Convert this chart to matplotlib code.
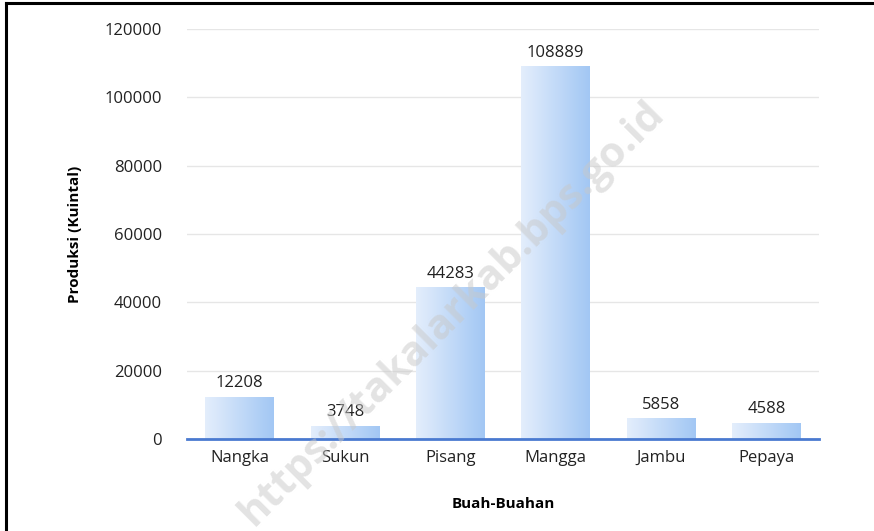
import numpy as np
import matplotlib
matplotlib.use("Agg")
import matplotlib.pyplot as plt
from matplotlib.colors import LinearSegmentedColormap
from matplotlib.lines import Line2D

# data
buah = ['Nangka', 'Sukun', 'Pisang', 'Mangga', 'Jambu', 'Pepaya']
produksi = [12208, 3748, 44283, 108889, 5858, 4588]
y_ticks = [0, 20000, 40000, 60000, 80000, 100000, 120000]

plt.rcParams['font.family'] = ['Open Sans', 'DejaVu Sans']

fig = plt.figure(figsize=(8.74, 5.31), dpi=100)
ax = fig.add_axes([187 / 874, 1 - 439 / 531, (819 - 187) / 874, (439 - 29) / 531])

bar_w = 0.655
grad = LinearSegmentedColormap.from_list('grad', ['#e4eefc', '#a2c7f4'])
strip = np.linspace(0, 1, 256).reshape(1, -1)

x = np.arange(len(buah))
bars = ax.bar(x, produksi, width=bar_w, color='none', zorder=2)
for b, v in zip(bars, produksi):
    x0 = b.get_x()
    ax.imshow(strip, cmap=grad, aspect='auto', zorder=2,
              extent=[x0, x0 + bar_w, 0, v], interpolation='bicubic')
    ax.text(b.get_x() + bar_w / 2, v + 1800, str(v), ha='center', va='bottom',
            fontsize=12, color='#222222')

ax.set_xlim(-0.5, len(buah) - 0.5)
ax.set_ylim(0, 120000)
ax.set_yticks(y_ticks)
ax.set_yticklabels([str(t) for t in y_ticks])
ax.set_xticks(x)
ax.set_xticklabels(buah)
ax.tick_params(axis='both', length=0, labelsize=12, colors='#222222')
ax.tick_params(axis='y', pad=18)
ax.tick_params(axis='x', pad=8)

ax.grid(axis='y', color='#e6e6e6', linewidth=1, zorder=0)
ax.set_axisbelow(True)
for s in ['top', 'right', 'left']:
    ax.spines[s].set_visible(False)
ax.spines['bottom'].set_color('#4a7ad0')
ax.spines['bottom'].set_linewidth(2)
ax.spines['bottom'].set_zorder(3)

ax.set_xlabel('Buah-Buahan', fontsize=11, fontweight='bold', labelpad=22)
ax.set_ylabel('Produksi (Kuintal)', fontsize=11, fontweight='bold', labelpad=16)

# watermark (runs off the bottom edge, as in the source image)
fig.text(0.517, 0.41, 'https://takalarkab.bps.go.id', rotation=45,
         ha='center', va='center', fontsize=30, fontweight='bold',
         color='#c8c8c8', alpha=0.5, zorder=10)

# frame lines on left and top
fig.add_artist(Line2D([5.5 / 874, 5.5 / 874], [0, 1 - 3 / 531], color='black', linewidth=2.2))
fig.add_artist(Line2D([5.5 / 874, 1], [1 - 3 / 531, 1 - 3 / 531], color='black', linewidth=2.2))

fig.savefig('out.png', dpi=100)
